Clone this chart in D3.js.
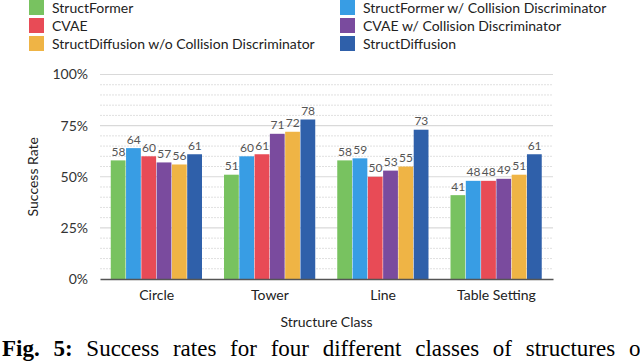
<!DOCTYPE html>
<html>
<head>
<meta charset="utf-8">
<script src="https://cdn.jsdelivr.net/npm/d3@7"></script>
<style>
  body { margin: 0; background: #fff; }
  svg { display: block; }
</style>
</head>
<body>
<div id="chart"></div>
<script>
// 数据
const categories = ["Circle", "Tower", "Line", "Table Setting"];
const methods = [
    "StructFormer",
    "StructFormer w/ Collision Discriminator",
    "CVAE",
    "CVAE w/ Collision Discriminator",
    "StructDiffusion w/o Collision Discriminator",
    "StructDiffusion"
];
const methodColors = ["#78c260", "#389de4", "#e84b56", "#7a4b9e", "#efb445", "#2f60aa"];
const circleValues = [58, 64, 60, 57, 56, 61];
const towerValues = [51, 60, 61, 71, 72, 78];
const lineValues = [58, 59, 50, 53, 55, 73];
const tableValues = [41, 48, 48, 49, 51, 61];
const yTicks = [0, 25, 50, 75, 100];
// 图例顺序（两列）
const legendOrder = [0, 2, 4, 1, 3, 5];

const valuesByCategory = [circleValues, towerValues, lineValues, tableValues];
const data = categories.map((c, i) => ({
    category: c,
    values: methods.map((m, j) => ({method: m, value: valuesByCategory[i][j]}))
}));

const font = "Lato, 'Noto Sans', sans-serif";

// 画布
const W = 640, H = 363;
const margin = {top: 74.5, right: 87, bottom: 84, left: 100};
const width = W - margin.left - margin.right,
      height = H - margin.top - margin.bottom;

const svg = d3.select("#chart").append("svg")
    .attr("width", W)
    .attr("height", H);

const chartArea = svg.append("g")
    .attr("transform", `translate(${margin.left},${margin.top})`);

const x0 = d3.scaleBand()
    .domain(categories)
    .range([0, width])
    .paddingInner(0.19)
    .paddingOuter(0.095);

const x1 = d3.scaleBand()
    .domain(methods)
    .range([0, x0.bandwidth()]);

const y = d3.scaleLinear()
    .domain([0, 100])
    .range([height, 0]);

const color = d3.scaleOrdinal().domain(methods).range(methodColors);

// 次网格线（虚线，每5%）
chartArea.append("g")
    .selectAll("line")
    .data(d3.range(5, 100, 5).filter(v => v % 25 !== 0))
    .join("line")
    .attr("x1", 0).attr("x2", width)
    .attr("y1", d => y(d)).attr("y2", d => y(d))
    .attr("stroke", "#e0e0e0")
    .attr("stroke-dasharray", "2,1")
    .attr("stroke-width", 1);

// 主网格线
chartArea.append("g")
    .selectAll("line")
    .data(yTicks.filter(v => v > 0))
    .join("line")
    .attr("x1", 0).attr("x2", width)
    .attr("y1", d => y(d)).attr("y2", d => y(d))
    .attr("stroke", "#d9d9d9")
    .attr("stroke-width", 1.2);

// Y轴
const yAxis = chartArea.append("g")
    .call(d3.axisLeft(y).tickValues(yTicks).tickFormat(d => d + "%").tickSize(0).tickPadding(12));
yAxis.select(".domain").remove();
yAxis.selectAll("text")
    .style("font-family", font)
    .style("font-size", "14px")
    .attr("fill", "#333");

// 柱子
const groups = chartArea.selectAll(".group")
    .data(data)
    .join("g")
    .attr("class", "group")
    .attr("transform", d => `translate(${x0(d.category)},0)`);

groups.selectAll("rect")
    .data(d => d.values)
    .join("rect")
    .attr("x", d => x1(d.method))
    .attr("y", d => y(d.value))
    .attr("width", x1.bandwidth() - 0.5)
    .attr("height", d => height - y(d.value))
    .attr("fill", d => color(d.method));

groups.selectAll("text")
    .data(d => d.values)
    .join("text")
    .attr("x", d => x1(d.method) + x1.bandwidth() / 2)
    .attr("y", d => y(d.value) - 4.5)
    .attr("text-anchor", "middle")
    .style("font-family", font)
    .style("font-size", "12px")
    .attr("fill", "#555")
    .text(d => d.value);

// X轴
const xAxis = chartArea.append("g")
    .attr("transform", `translate(0,${height})`)
    .call(d3.axisBottom(x0).tickSize(0).tickPadding(11));
xAxis.select(".domain")
    .attr("stroke", "#555")
    .attr("stroke-width", 1.5);
xAxis.selectAll("text")
    .style("font-family", font)
    .style("font-size", "14px")
    .attr("fill", "#222");

// 轴标题
svg.append("text")
    .attr("transform", `translate(38,${margin.top + height / 2}) rotate(-90)`)
    .attr("text-anchor", "middle")
    .style("font-family", font)
    .style("font-size", "14px")
    .attr("fill", "#222")
    .text("Success Rate");

svg.append("text")
    .attr("x", margin.left + width / 2)
    .attr("y", 327)
    .attr("text-anchor", "middle")
    .style("font-family", font)
    .style("font-size", "14px")
    .attr("fill", "#222")
    .text("Structure Class");

// 图例
const legend = svg.append("g");
const legendItems = legend.selectAll(".legend")
    .data(legendOrder)
    .join("g")
    .attr("class", "legend")
    .attr("transform", (d, i) => `translate(${i < 3 ? 29 : 340},${(i % 3) * 18})`);

legendItems.append("rect")
    .attr("width", 15)
    .attr("height", 15)
    .attr("fill", d => methodColors[d]);

legendItems.append("text")
    .attr("x", 23)
    .attr("y", 12.5)
    .style("font-family", font)
    .style("font-size", "14px")
    .attr("fill", "#222")
    .text(d => methods[d]);

// 图注
const caption = svg.append("text")
    .attr("x", 2)
    .attr("y", 356)
    .style("font-family", "'Liberation Serif', 'Times New Roman', serif")
    .style("font-size", "23px")
    .style("word-spacing", "8px")
    .attr("fill", "#000");
caption.append("tspan").style("font-weight", "bold").text("Fig. 5:");
caption.append("tspan").text(" Success rates for four different classes of structures on");
</script>
</body>
</html>
